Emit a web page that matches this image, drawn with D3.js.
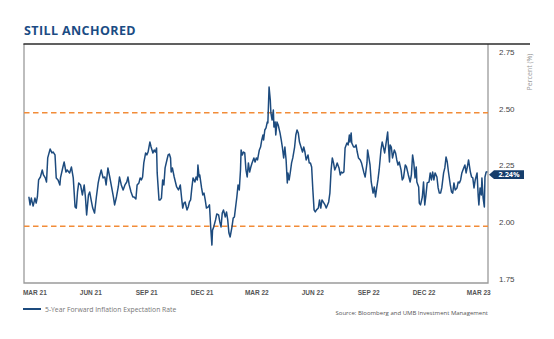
<!DOCTYPE html>
<html lang="en">
<head>
  <meta charset="UTF-8">
  <title>Still Anchored</title>
  <script src="https://d3js.org/d3.v7.min.js"></script>
  <style>
    body { margin: 0; background: #fff; }
    svg { display: block; font-family: "Open Sans", "Noto Sans", sans-serif; }
    .title { font-size: 12.5px; font-weight: 700; fill: #1b4c84; letter-spacing: 0.4px; }
    .y-axis text { font-size: 8px; fill: #444; }
    .x-axis text { font-size: 6.5px; font-weight: 600; fill: #555; }
    .unit { font-size: 7px; fill: #999; }
    .legend-text { font-size: 6.8px; fill: #777; }
    .source { font-size: 6px; fill: #555; }
  </style>
</head>
<body>
<div id="chart"></div>
<script>
// 5-year forward inflation expectation rate (%)
const dates = [
  "2021-03-06","2021-03-08","2021-03-10","2021-03-13","2021-03-16","2021-03-18","2021-03-20","2021-03-22","2021-03-25","2021-03-28",
  "2021-03-30","2021-04-02","2021-04-04","2021-04-06","2021-04-10","2021-04-13","2021-04-15","2021-04-18","2021-04-20","2021-04-23",
  "2021-04-26","2021-04-27","2021-05-01","2021-05-03","2021-05-06","2021-05-08","2021-05-12","2021-05-15","2021-05-18","2021-05-21",
  "2021-05-23","2021-05-25","2021-05-27","2021-05-30","2021-06-02","2021-06-05","2021-06-07","2021-06-09","2021-06-12","2021-06-14",
  "2021-06-17","2021-06-19","2021-06-22","2021-06-25","2021-06-28","2021-06-30","2021-07-03","2021-07-06","2021-07-09","2021-07-11",
  "2021-07-14","2021-07-17","2021-07-20","2021-07-23","2021-07-25","2021-07-28","2021-07-31","2021-08-02","2021-08-05","2021-08-08",
  "2021-08-11","2021-08-14","2021-08-16","2021-08-18","2021-08-21","2021-08-24","2021-08-26","2021-08-29","2021-08-31","2021-09-03",
  "2021-09-05","2021-09-07","2021-09-09","2021-09-11","2021-09-14","2021-09-16","2021-09-18","2021-09-21","2021-09-23","2021-09-26",
  "2021-09-28","2021-09-30","2021-10-02","2021-10-03","2021-10-06","2021-10-08","2021-10-10","2021-10-12","2021-10-14","2021-10-16",
  "2021-10-19","2021-10-21","2021-10-23","2021-10-25","2021-10-26","2021-10-28","2021-10-31","2021-11-02","2021-11-04","2021-11-07",
  "2021-11-10","2021-11-12","2021-11-14","2021-11-16","2021-11-18","2021-11-21","2021-11-23","2021-11-25","2021-11-27","2021-11-29",
  "2021-12-01","2021-12-04","2021-12-06","2021-12-08","2021-12-09","2021-12-11","2021-12-12","2021-12-15","2021-12-17","2021-12-19",
  "2021-12-21","2021-12-23","2021-12-26","2021-12-28","2021-12-30","2022-01-01","2022-01-02","2022-01-04","2022-01-07","2022-01-09",
  "2022-01-12","2022-01-14","2022-01-16","2022-01-18","2022-01-20","2022-01-23","2022-01-25","2022-01-27","2022-01-29","2022-01-31",
  "2022-02-03","2022-02-05","2022-02-07","2022-02-09","2022-02-11","2022-02-13","2022-02-15","2022-02-17","2022-02-18","2022-02-20",
  "2022-02-22","2022-02-24","2022-02-26","2022-02-28","2022-03-02","2022-03-04","2022-03-06","2022-03-08","2022-03-11","2022-03-13",
  "2022-03-15","2022-03-17","2022-03-20","2022-03-22","2022-03-24","2022-03-26","2022-03-27","2022-03-29","2022-03-31","2022-04-02",
  "2022-04-03","2022-04-05","2022-04-07","2022-04-08","2022-04-10","2022-04-12","2022-04-13","2022-04-15","2022-04-16","2022-04-18",
  "2022-04-20","2022-04-23","2022-04-25","2022-04-27","2022-04-29","2022-05-01","2022-05-03","2022-05-05","2022-05-06","2022-05-08",
  "2022-05-10","2022-05-12","2022-05-14","2022-05-17","2022-05-19","2022-05-21","2022-05-23","2022-05-25","2022-05-28","2022-05-30",
  "2022-06-01","2022-06-03","2022-06-05","2022-06-08","2022-06-10","2022-06-12","2022-06-14","2022-06-16","2022-06-18","2022-06-20",
  "2022-06-22","2022-06-25","2022-06-27","2022-06-29","2022-07-01","2022-07-03","2022-07-06","2022-07-08","2022-07-10","2022-07-12",
  "2022-07-14","2022-07-16","2022-07-18","2022-07-20","2022-07-22","2022-07-24","2022-07-26","2022-07-29","2022-07-31","2022-08-02",
  "2022-08-04","2022-08-06","2022-08-08","2022-08-11","2022-08-13","2022-08-15","2022-08-16","2022-08-18","2022-08-19","2022-08-22",
  "2022-08-24","2022-08-26","2022-08-28","2022-08-30","2022-09-02","2022-09-04","2022-09-06","2022-09-08","2022-09-10","2022-09-13",
  "2022-09-14","2022-09-16","2022-09-18","2022-09-20","2022-09-23","2022-09-25","2022-09-27","2022-09-29","2022-10-01","2022-10-03",
  "2022-10-06","2022-10-08","2022-10-10","2022-10-12","2022-10-14","2022-10-17","2022-10-18","2022-10-20","2022-10-21","2022-10-23",
  "2022-10-25","2022-10-28","2022-10-30","2022-11-01","2022-11-03","2022-11-05","2022-11-08","2022-11-10","2022-11-12","2022-11-15",
  "2022-11-17","2022-11-20","2022-11-23","2022-11-25","2022-11-27","2022-11-29","2022-12-01","2022-12-03","2022-12-04","2022-12-07",
  "2022-12-08","2022-12-10","2022-12-13","2022-12-15","2022-12-17","2022-12-19","2022-12-21","2022-12-24","2022-12-26","2022-12-28",
  "2022-12-30","2023-01-01","2023-01-03","2023-01-06","2023-01-08","2023-01-10","2023-01-12","2023-01-14","2023-01-17","2023-01-19",
  "2023-01-21","2023-01-23","2023-01-25","2023-01-28","2023-01-30","2023-02-01","2023-02-03","2023-02-05","2023-02-08","2023-02-10",
  "2023-02-12","2023-02-14","2023-02-16","2023-02-19","2023-02-21","2023-02-23","2023-02-25","2023-02-27","2023-03-02","2023-03-04",
  "2023-03-06","2023-03-08","2023-03-10","2023-03-13","2023-03-15","2023-03-16","2023-03-18","2023-03-20","2023-03-21","2023-03-23",
  "2023-03-25","2023-03-26","2023-03-28","2023-03-30"
];
const rate = [
  2.130,2.094,2.124,2.089,2.124,2.102,2.129,2.204,2.217,2.248,
  2.226,2.213,2.195,2.301,2.340,2.323,2.327,2.314,2.213,2.204,
  2.182,2.213,2.261,2.283,2.239,2.248,2.235,2.261,2.213,2.085,
  2.080,2.151,2.191,2.182,2.138,2.182,2.129,2.050,2.138,2.151,
  2.107,2.080,2.058,2.129,2.191,2.217,2.248,2.213,2.217,2.182,
  2.257,2.217,2.173,2.129,2.094,2.129,2.173,2.217,2.182,2.160,
  2.182,2.195,2.217,2.182,2.151,2.129,2.129,2.120,2.182,2.191,
  2.213,2.204,2.217,2.279,2.323,2.314,2.327,2.371,2.349,2.323,
  2.336,2.327,2.345,2.235,2.116,2.116,2.124,2.204,2.182,2.257,
  2.292,2.314,2.318,2.301,2.239,2.257,2.217,2.195,2.173,2.160,
  2.182,2.129,2.080,2.102,2.107,2.072,2.085,2.107,2.116,2.169,
  2.213,2.195,2.217,2.204,2.270,2.217,2.226,2.169,2.138,2.146,
  2.116,2.080,2.085,2.094,1.997,1.917,1.983,1.997,2.028,2.054,
  2.050,2.019,1.997,2.058,2.072,2.041,2.063,2.028,1.970,1.953,
  1.997,2.036,2.041,2.085,2.129,2.182,2.160,2.248,2.336,2.314,
  2.327,2.323,2.248,2.217,2.279,2.239,2.261,2.279,2.301,2.283,
  2.301,2.292,2.336,2.349,2.380,2.402,2.380,2.424,2.433,2.459,
  2.455,2.613,2.556,2.499,2.468,2.512,2.437,2.459,2.402,2.459,
  2.446,2.411,2.380,2.345,2.301,2.349,2.292,2.191,2.235,2.204,
  2.239,2.279,2.301,2.349,2.402,2.424,2.411,2.371,2.345,2.327,
  2.349,2.327,2.292,2.314,2.279,2.279,2.261,2.160,2.072,2.063,
  2.072,2.080,2.116,2.080,2.116,2.107,2.094,2.080,2.094,2.107,
  2.146,2.248,2.301,2.279,2.248,2.261,2.279,2.257,2.226,2.239,
  2.235,2.239,2.345,2.367,2.358,2.402,2.371,2.411,2.367,2.349,
  2.349,2.358,2.327,2.301,2.292,2.279,2.257,2.235,2.217,2.279,
  2.336,2.305,2.270,2.195,2.146,2.173,2.129,2.169,2.204,2.248,
  2.336,2.371,2.349,2.323,2.358,2.415,2.367,2.283,2.358,2.349,
  2.301,2.336,2.323,2.292,2.270,2.283,2.248,2.204,2.213,2.270,
  2.261,2.226,2.195,2.226,2.314,2.279,2.213,2.261,2.195,2.173,
  2.102,2.094,2.129,2.195,2.094,2.138,2.191,2.195,2.235,2.204,
  2.239,2.204,2.235,2.217,2.169,2.146,2.146,2.169,2.235,2.257,
  2.305,2.283,2.239,2.182,2.151,2.146,2.191,2.160,2.169,2.195,
  2.191,2.204,2.235,2.257,2.270,2.235,2.261,2.292,2.239,2.217,
  2.213,2.169,2.204,2.235,2.129,2.094,2.169,2.138,2.213,2.124,
  2.085,2.217,2.239,2.240
];
// x-axis ticks (mid-month of each quarter) and y-axis ticks
const tickDates = ["2021-03-15","2021-06-15","2021-09-15","2021-12-15","2022-03-15","2022-06-15","2022-09-15","2022-12-15","2023-03-15"];
const yTicks = [1.75, 2.00, 2.25, 2.50, 2.75];
// upper/lower band lines
const bands = [2.00, 2.50];

const width = 554, height = 339;
const plotLeft = 24, plotRight = 488, plotTop = 44, plotBottom = 283;

const parse = d3.utcParse("%Y-%m-%d");
const series = dates.map((d, i) => ({ date: parse(d), value: rate[i] }));

const x = d3.scaleUtc()
  .domain([parse("2021-02-26"), parse("2023-03-31")])
  .range([plotLeft, plotRight]);
const y = d3.scaleLinear()
  .domain([1.75, 2.75])
  .range([plotBottom, 56]);

const svg = d3.select("#chart").append("svg")
  .attr("width", width)
  .attr("height", height);

// title
svg.append("text")
  .attr("class", "title")
  .attr("x", 24)
  .attr("y", 35)
  .text("STILL ANCHORED");

// frame: gray sides, dark top rule running past the axis
svg.append("path")
  .attr("d", `M${plotLeft},${plotTop}V${plotBottom}H${plotRight}V${plotTop}`)
  .attr("fill", "none")
  .attr("stroke", "#9a9a9a")
  .attr("stroke-width", 1.3);
svg.append("line")
  .attr("x1", plotLeft - 0.6).attr("x2", 530)
  .attr("y1", plotTop).attr("y2", plotTop)
  .attr("stroke", "#2b2b2b")
  .attr("stroke-width", 1.5);

// dashed band lines
svg.append("g")
  .selectAll("line")
  .data(bands)
  .join("line")
  .attr("x1", plotLeft).attr("x2", plotRight)
  .attr("y1", d => y(d)).attr("y2", d => y(d))
  .attr("stroke", "#f28c38")
  .attr("stroke-width", 1.4)
  .attr("stroke-dasharray", "5.5,3.5");

// series line
const line = d3.line()
  .x(d => x(d.date))
  .y(d => y(d.value));

svg.append("path")
  .datum(series)
  .attr("d", line)
  .attr("fill", "none")
  .attr("stroke", "#1d4b7e")
  .attr("stroke-width", 1.5)
  .attr("stroke-linejoin", "round");

// right-hand y axis
const yAxis = svg.append("g")
  .attr("class", "y-axis")
  .attr("transform", `translate(${plotRight},0)`)
  .call(d3.axisRight(y).tickValues(yTicks).tickFormat(d3.format(".2f")).tickSize(0).tickPadding(11));
yAxis.select(".domain").remove();
yAxis.selectAll("text").attr("dy", "-0.2em");

svg.append("text")
  .attr("class", "unit")
  .attr("transform", "translate(532,72) rotate(-90)")
  .attr("text-anchor", "middle")
  .text("Percent (%)");

// x axis labels
const xAxis = svg.append("g")
  .attr("class", "x-axis")
  .attr("transform", `translate(0,${plotBottom})`)
  .call(d3.axisBottom(x)
    .tickValues(tickDates.map(parse))
    .tickFormat(d => d3.utcFormat("%b %y")(d).toUpperCase())
    .tickSize(0)
    .tickPadding(7));
xAxis.select(".domain").remove();

// latest value callout
const last = series[series.length - 1];
const cy = y(last.value) + 2.9;
svg.append("path")
  .attr("d", `M${plotRight + 1},${cy} L${plotRight + 6},${cy - 4.3} H524 V${cy + 4.3} H${plotRight + 6} Z`)
  .attr("fill", "#163e6c");
svg.append("text")
  .attr("x", 509)
  .attr("y", cy + 2.5)
  .attr("text-anchor", "middle")
  .attr("fill", "#fff")
  .attr("font-size", 7.3)
  .attr("font-weight", 700)
  .text(d3.format(".2f")(last.value) + "%");

// legend
svg.append("line")
  .attr("x1", 23).attr("x2", 41)
  .attr("y1", 309).attr("y2", 309)
  .attr("stroke", "#1d4b7e")
  .attr("stroke-width", 2);
svg.append("text")
  .attr("class", "legend-text")
  .attr("x", 45)
  .attr("y", 311.5)
  .text("5-Year Forward Inflation Expectation Rate");

svg.append("text")
  .attr("class", "source")
  .attr("x", 488)
  .attr("y", 314.5)
  .attr("text-anchor", "end")
  .text("Source: Bloomberg and UMB Investment Management");
</script>
</body>
</html>
